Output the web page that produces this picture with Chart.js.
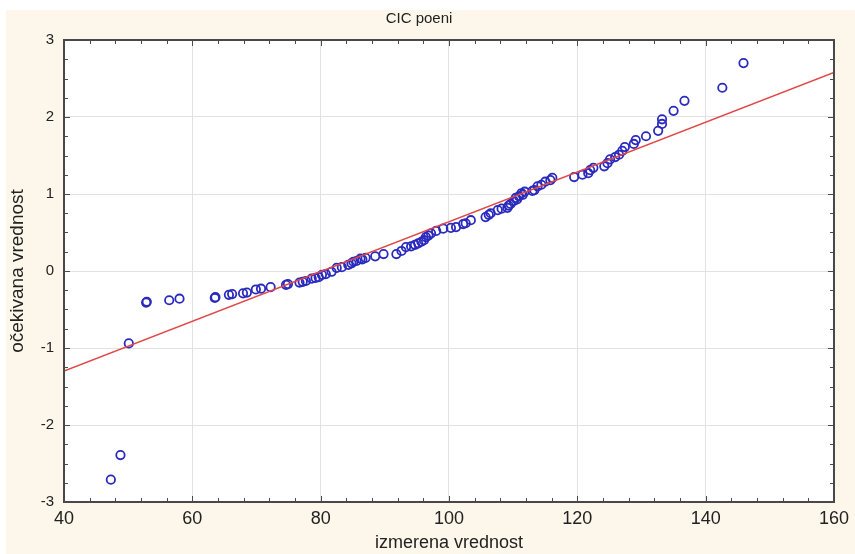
<!DOCTYPE html>
<html>
<head>
<meta charset="utf-8">
<title>CIC poeni</title>
<script src="https://cdn.jsdelivr.net/npm/chart.js@4/dist/chart.umd.min.js"></script>
<style>
  html, body { margin: 0; padding: 0; background: #ffffff; }
  #wrap { position: relative; width: 855px; height: 554px; }
  #bg { position: absolute; left: 6px; top: 10px; right: 0; bottom: 0; background: #fcf7ea; }
  #plot { position: absolute; left: 0; top: 0; }
</style>
</head>
<body>
<div id="wrap">
  <div id="bg"></div>
  <canvas id="plot" width="855" height="554"></canvas>
</div>
<script>
// izmerena vrednost (measured)
const izmerena = [
  47.3, 48.8, 50.1, 52.9, 52.8, 56.4, 58.0, 63.6, 63.5, 65.7,
  66.2, 67.9, 68.5, 69.9, 70.7, 72.2, 74.6, 74.9, 76.7, 77.2,
  77.7, 78.6, 79.2, 79.7, 80.2, 80.8, 81.7, 82.5, 83.3, 84.3,
  84.8, 85.1, 85.6, 86.2, 86.5, 87.0, 88.5, 89.8, 91.8, 92.6,
  93.3, 94.1, 94.7, 95.2, 95.7, 96.1, 96.4, 96.8, 97.2, 98.0,
  99.1, 100.3, 101.1, 102.2, 102.6, 103.4, 105.7, 106.2, 106.5, 107.6,
  108.2, 109.1, 109.3, 109.6, 110.1, 110.4, 110.6, 110.9, 111.3, 111.5,
  111.8, 113.0, 113.3, 113.8, 114.4, 115.0, 115.8, 116.1, 119.5, 120.8,
  121.7, 122.0, 122.5, 124.2, 124.7, 125.1, 125.9, 126.5, 127.0, 127.4,
  128.8, 129.1, 130.7, 132.6, 133.2, 133.2, 135.0, 136.7, 142.6, 145.9
];
// očekivana vrednost (expected normal)
const ocekivana = [
  -2.71, -2.39, -0.94, -0.40, -0.41, -0.38, -0.36, -0.34, -0.35, -0.31,
  -0.30, -0.29, -0.28, -0.24, -0.23, -0.21, -0.18, -0.17, -0.15, -0.14,
  -0.13, -0.10, -0.09, -0.08, -0.05, -0.04, -0.01, 0.04, 0.05, 0.08,
  0.10, 0.12, 0.13, 0.16, 0.15, 0.17, 0.19, 0.22, 0.22, 0.26,
  0.31, 0.32, 0.34, 0.36, 0.38, 0.40, 0.44, 0.46, 0.49, 0.52,
  0.55, 0.56, 0.57, 0.61, 0.62, 0.66, 0.70, 0.73, 0.75, 0.79,
  0.81, 0.82, 0.85, 0.87, 0.91, 0.95, 0.93, 0.97, 1.01, 0.99,
  1.03, 1.04, 1.05, 1.10, 1.12, 1.16, 1.18, 1.21, 1.22, 1.25,
  1.27, 1.31, 1.34, 1.36, 1.40, 1.45, 1.48, 1.51, 1.56, 1.61,
  1.65, 1.70, 1.75, 1.82, 1.91, 1.97, 2.08, 2.21, 2.38, 2.70
];
// fitted normal line
const linijaX = [40, 160];
const linijaY = [-1.30, 2.58];

const xTicks = [40, 60, 80, 100, 120, 140, 160];
const yTicks = [-3, -2, -1, 0, 1, 2, 3];

const FONT = "'Liberation Sans', Arial, sans-serif";

// white plot area, frame and small inward ticks on all four sides
const okvir = {
  id: 'okvir',
  beforeDraw(chart) {
    const { ctx, chartArea: a } = chart;
    ctx.save();
    ctx.fillStyle = '#ffffff';
    ctx.fillRect(a.left, a.top, a.right - a.left, a.bottom - a.top);
    ctx.restore();
  },
  afterDraw(chart) {
    const { ctx, chartArea: a, scales } = chart;
    ctx.save();
    ctx.strokeStyle = '#4a4a4a';
    ctx.lineWidth = 1;
    ctx.beginPath();
    for (let v = 40; v <= 160; v += 4) {
      const px = Math.round(scales.x.getPixelForValue(v)) + 0.5;
      const len = v % 20 === 0 ? 6 : 4;
      ctx.moveTo(px, a.top); ctx.lineTo(px, a.top + len);
      ctx.moveTo(px, a.bottom); ctx.lineTo(px, a.bottom - len);
    }
    for (let v = -3; v <= 3.001; v += 0.25) {
      const py = Math.round(scales.y.getPixelForValue(v)) + 0.5;
      const len = Math.abs(v - Math.round(v)) < 0.01 ? 6 : 4;
      ctx.moveTo(a.left, py); ctx.lineTo(a.left + len, py);
      ctx.moveTo(a.right, py); ctx.lineTo(a.right - len, py);
    }
    ctx.stroke();
    ctx.lineWidth = 2;
    ctx.strokeStyle = '#484848';
    ctx.strokeRect(a.left, a.top, a.right - a.left, a.bottom - a.top);
    ctx.restore();
  }
};

new Chart(document.getElementById('plot'), {
  type: 'scatter',
  data: {
    datasets: [
      {
        label: 'linija',
        data: linijaX.map((x, i) => ({ x: x, y: linijaY[i] })),
        showLine: true,
        borderColor: '#e04848',
        borderWidth: 1.5,
        pointRadius: 0,
        order: 0
      },
      {
        label: 'CIC poeni',
        data: izmerena.map((x, i) => ({ x: x, y: ocekivana[i] })),
        pointStyle: 'circle',
        pointRadius: 4.2,
        borderColor: '#2a2abe',
        borderWidth: 1.8,
        backgroundColor: 'rgba(0,0,0,0)',
        order: 1
      }
    ]
  },
  options: {
    responsive: false,
    animation: false,
    layout: { padding: { left: 0, right: 17, top: 0, bottom: 0 } },
    plugins: {
      legend: { display: false },
      tooltip: { enabled: false },
      title: {
        display: true,
        text: 'CIC poeni',
        color: '#222',
        font: { family: FONT, size: 15, weight: 'normal', lineHeight: 1.2 },
        padding: { top: 10, bottom: 12 }
      }
    },
    scales: {
      x: {
        type: 'linear',
        min: 40,
        max: 160,
        afterBuildTicks: s => { s.ticks = xTicks.map(v => ({ value: v })); },
        afterFit: s => { s.height = 52; },
        grid: { color: '#e2e2e2', drawTicks: false },
        border: { display: false },
        ticks: { color: '#222', padding: 6, font: { family: FONT, size: 18 } },
        title: {
          display: true,
          text: 'izmerena vrednost',
          color: '#222',
          font: { family: FONT, size: 18, lineHeight: 1.2 },
          padding: { top: 0, bottom: 0 }
        }
      },
      y: {
        type: 'linear',
        min: -3,
        max: 3,
        afterBuildTicks: s => { s.ticks = yTicks.map(v => ({ value: v })); },
        afterFit: s => { s.width = 64; },
        grid: { color: '#e2e2e2', drawTicks: false },
        border: { display: false },
        ticks: { color: '#222', padding: 10, font: { family: FONT, size: 15 } },
        title: {
          display: true,
          text: 'očekivana vrednost',
          color: '#222',
          font: { family: FONT, size: 19, lineHeight: 1.2 },
          padding: { top: 6, bottom: 0 }
        }
      }
    }
  },
  plugins: [okvir]
});
</script>
</body>
</html>
